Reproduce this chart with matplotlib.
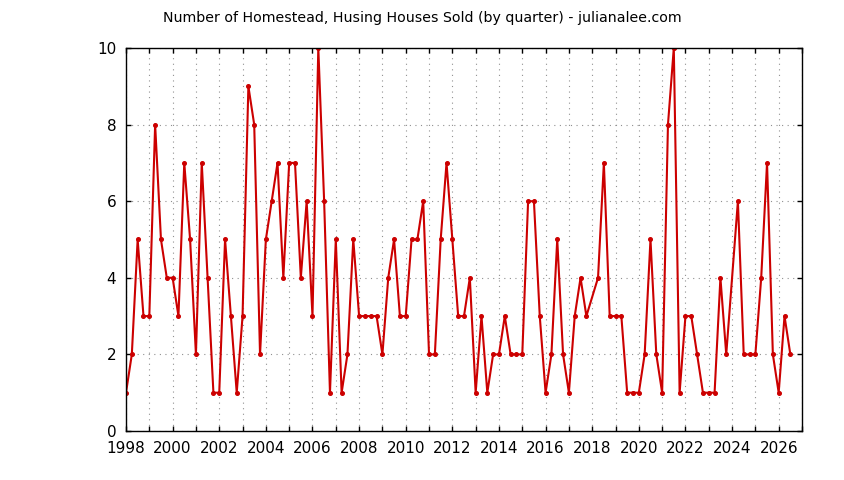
import matplotlib
matplotlib.use("Agg")
import matplotlib.pyplot as plt
from matplotlib.ticker import MultipleLocator

# quarter start (decimal year) and houses sold; 2018.0 and 2024.0 have no data
quarters = [1998.00, 1998.25, 1998.50, 1998.75, 1999.00, 1999.25, 1999.50, 1999.75,
            2000.00, 2000.25, 2000.50, 2000.75, 2001.00, 2001.25, 2001.50, 2001.75,
            2002.00, 2002.25, 2002.50, 2002.75, 2003.00, 2003.25, 2003.50, 2003.75,
            2004.00, 2004.25, 2004.50, 2004.75, 2005.00, 2005.25, 2005.50, 2005.75,
            2006.00, 2006.25, 2006.50, 2006.75, 2007.00, 2007.25, 2007.50, 2007.75,
            2008.00, 2008.25, 2008.50, 2008.75, 2009.00, 2009.25, 2009.50, 2009.75,
            2010.00, 2010.25, 2010.50, 2010.75, 2011.00, 2011.25, 2011.50, 2011.75,
            2012.00, 2012.25, 2012.50, 2012.75, 2013.00, 2013.25, 2013.50, 2013.75,
            2014.00, 2014.25, 2014.50, 2014.75, 2015.00, 2015.25, 2015.50, 2015.75,
            2016.00, 2016.25, 2016.50, 2016.75, 2017.00, 2017.25, 2017.50, 2017.75,
            2018.25, 2018.50, 2018.75, 2019.00, 2019.25, 2019.50, 2019.75,
            2020.00, 2020.25, 2020.50, 2020.75, 2021.00, 2021.25, 2021.50, 2021.75,
            2022.00, 2022.25, 2022.50, 2022.75, 2023.00, 2023.25, 2023.50, 2023.75,
            2024.25, 2024.50, 2024.75, 2025.00, 2025.25, 2025.50, 2025.75,
            2026.00, 2026.25, 2026.50]
sold = [1, 2, 5, 3, 3, 8, 5, 4,
        4, 3, 7, 5, 2, 7, 4, 1,
        1, 5, 3, 1, 3, 9, 8, 2,
        5, 6, 7, 4, 7, 7, 4, 6,
        3, 10, 6, 1, 5, 1, 2, 5,
        3, 3, 3, 3, 2, 4, 5, 3,
        3, 5, 5, 6, 2, 2, 5, 7,
        5, 3, 3, 4, 1, 3, 1, 2,
        2, 3, 2, 2, 2, 6, 6, 3,
        1, 2, 5, 2, 1, 3, 4, 3,
        4, 7, 3, 3, 3, 1, 1,
        1, 2, 5, 2, 1, 8, 10, 1,
        3, 3, 2, 1, 1, 1, 4, 2,
        6, 2, 2, 2, 4, 7, 2,
        1, 3, 2]

title = "Number of Homestead, Husing Houses Sold (by quarter) - julianalee.com"

fig = plt.figure(figsize=(8.44, 4.8), dpi=100)
ax = fig.add_axes([126 / 844, 1 - 431 / 480, (802 - 126) / 844, (431 - 48) / 480])

ax.plot(quarters, sold, color="#cc0000", lw=1.5, marker="o", ms=2.6, mec="#cc0000", mfc="#cc0000")

ax.set_xlim(1998, 2027)
ax.set_ylim(0, 10)
ax.xaxis.set_major_locator(MultipleLocator(2))
ax.xaxis.set_minor_locator(MultipleLocator(1))
ax.yaxis.set_major_locator(MultipleLocator(2))
ax.tick_params(which="both", direction="in", top=True, right=True, labelsize=11)
ax.tick_params(which="major", length=3.5, width=1)
ax.tick_params(which="minor", length=3.5, width=1)
ax.tick_params(axis="x", pad=7)
ax.tick_params(axis="y", pad=7)
ax.grid(which="both", axis="x", color="#909090", ls=(0, (1, 4)), lw=0.8)
ax.grid(which="major", axis="y", color="#909090", ls=(0, (1, 4)), lw=0.8)
ax.set_axisbelow(True)
for s in ax.spines.values():
    s.set_linewidth(1)

fig.text(0.5, 1 - 18 / 480, title, ha="center", va="center", fontsize=10.2)

fig.savefig("out.png", dpi=100)
